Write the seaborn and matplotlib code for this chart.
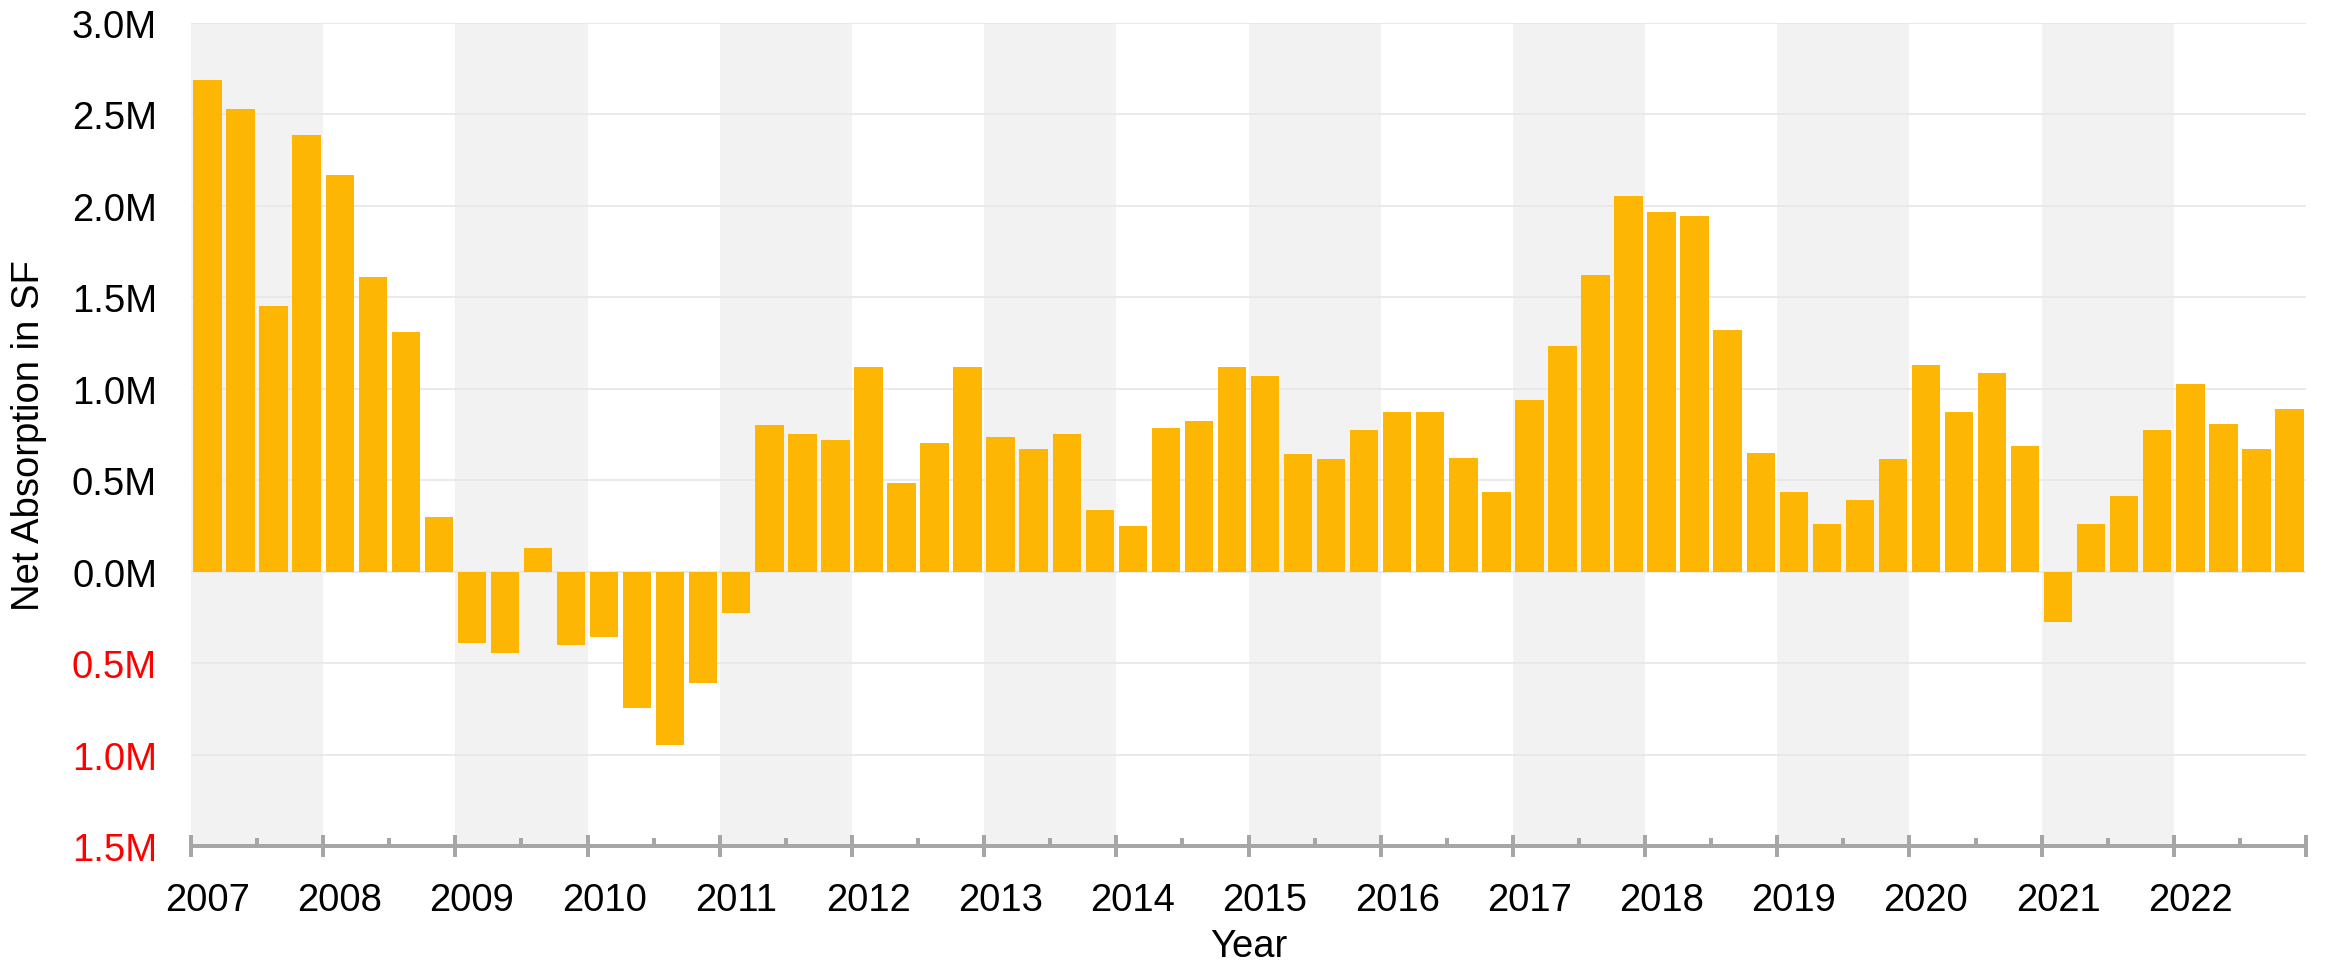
import numpy as np
import pandas as pd
import matplotlib
matplotlib.use("Agg")
import matplotlib.pyplot as plt
import seaborn as sns
from matplotlib.ticker import FixedLocator, FuncFormatter, NullFormatter

# ---- data (net absorption, millions of SF, quarterly 2007 Q1 .. 2022 Q4) ----
years = [str(y) for y in range(2007, 2023)]
quarters = ["Q1", "Q2", "Q3", "Q4"]
absorption_m = [
    2.69, 2.53, 1.455, 2.39,      # 2007
    2.17, 1.613, 1.313, 0.297,    # 2008
    -0.39, -0.445, 0.127, -0.40,  # 2009
    -0.356, -0.748, -0.946, -0.607,  # 2010
    -0.225, 0.802, 0.755, 0.721,  # 2011
    1.117, 0.487, 0.701, 1.117,   # 2012
    0.738, 0.668, 0.755, 0.336,   # 2013
    0.252, 0.785, 0.826, 1.117,   # 2014
    1.07, 0.644, 0.614, 0.775,    # 2015
    0.872, 0.872, 0.621, 0.433,   # 2016
    0.936, 1.235, 1.621, 2.054,   # 2017
    1.966, 1.946, 1.322, 0.651,   # 2018
    0.433, 0.258, 0.393, 0.614,   # 2019
    1.131, 0.872, 1.087, 0.685,   # 2020
    -0.275, 0.258, 0.416, 0.772,  # 2021
    1.027, 0.809, 0.668, 0.889,   # 2022
]
y_ticks = [-1.5, -1.0, -0.5, 0.0, 0.5, 1.0, 1.5, 2.0, 2.5, 3.0]
periods = [f"{y} {q}" for y in years for q in quarters]

df = pd.DataFrame({"period": periods, "value": absorption_m})

sns.set_theme(style="white")
plt.rcParams["font.family"] = ["Liberation Sans", "DejaVu Sans"]

BAR = "#FDB604"
AXIS_GREY = "#a6a6a6"
px = 0.72  # points per pixel at dpi 100

fig = plt.figure(figsize=(23.26, 9.62), dpi=100)
ax = fig.add_axes([191 / 2326, 115 / 962, (2306 - 191) / 2326, (938 - 115) / 962])

n_years = len(years)
# alternating year shading
for k in range(0, n_years, 2):
    ax.axvspan(4 * k - 0.5, 4 * k + 3.5, color="#f2f2f2", zorder=0, lw=0)

sns.barplot(data=df, x="period", y="value", order=periods, color=BAR,
            saturation=1, width=0.86, linewidth=0, ax=ax, zorder=3)

ax.set_xlim(-0.5, len(periods) - 0.5)
ax.set_ylim(y_ticks[0], y_ticks[-1])

# y axis
ax.yaxis.set_major_locator(FixedLocator(y_ticks))
ax.yaxis.set_major_formatter(FuncFormatter(lambda v, p: f"{abs(v):.1f}M"))
ax.tick_params(axis="y", length=0, pad=34 * px, labelsize=27.5, labelcolor="black")
ax.set_axisbelow(True)
ax.yaxis.grid(True, color="#e6e6e6", lw=1.6 * px)
ax.xaxis.grid(False)

# x axis: labels under Q1 bars, boundary ticks at year edges
label_pos = [4 * k for k in range(n_years)]
ax.xaxis.set_major_locator(FixedLocator(label_pos))
ax.set_xticklabels(years)
ax.xaxis.set_minor_locator(FixedLocator([4 * k - 0.5 for k in range(n_years + 1)]))
ax.xaxis.set_minor_formatter(NullFormatter())
ax.tick_params(axis="x", which="major", length=0, pad=36 * px, labelsize=27.5, labelcolor="black")
ax.tick_params(axis="x", which="minor", direction="inout", length=22 * px,
               width=4 * px, color=AXIS_GREY, bottom=True)

# mid-year small ticks
sec = ax.secondary_xaxis("bottom")
sec.xaxis.set_major_locator(FixedLocator([4 * k + 1.5 for k in range(n_years)]))
sec.xaxis.set_major_formatter(NullFormatter())
sec.tick_params(axis="x", direction="in", length=8 * px, width=4 * px, color=AXIS_GREY)
sec.spines["bottom"].set_visible(False)

for s in ["left", "top", "right"]:
    ax.spines[s].set_visible(False)
ax.spines["bottom"].set_color(AXIS_GREY)
ax.spines["bottom"].set_linewidth(4 * px)
ax.spines["bottom"].set_zorder(5)

ax.set_xlabel("Year", fontsize=27.5, color="black", labelpad=7)
ax.set_ylabel("Net Absorption in SF", fontsize=27.5, color="black", labelpad=18)

for lbl, v in zip(ax.get_yticklabels(), y_ticks):
    lbl.set_color("#ff0000" if v < 0 else "black")

fig.savefig("out.png", dpi=100)
